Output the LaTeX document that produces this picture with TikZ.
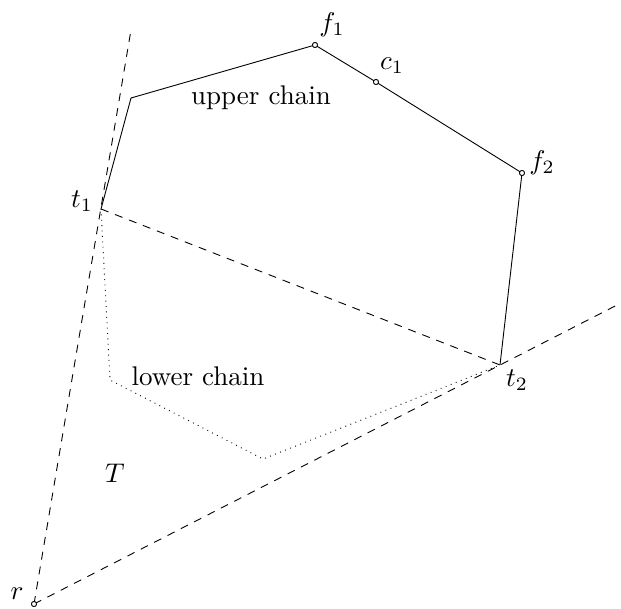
\documentclass[tikz,border=0pt]{standalone}
\begin{document}
\begin{tikzpicture}[x=1pt,y=-1pt,
  lbl/.style={inner sep=0pt, scale=2.7},
  edge/.style={line width=0.9pt},
  dsh/.style={line width=0.9pt, dash pattern=on 8pt off 7pt},
  dts/.style={line width=0.9pt, dash pattern=on 0.9pt off 4.5pt},
  pt/.style={circle, draw, line width=0.8pt, minimum size=5pt, inner sep=0pt}]
\useasboundingbox (0,0) rectangle (621,608);
% points
\coordinate (t1) at (101,209);
\coordinate (u1) at (131,98);
\node[pt] (f1) at (315,45) {};
\node[pt] (c1) at (376,82) {};
\node[pt] (f2) at (522,173) {};
\coordinate (t2) at (500,365);
\node[pt] (r) at (34,604) {};
\coordinate (l1) at (110,380);
\coordinate (l2) at (263,459);
\coordinate (e1) at (131,30);
\coordinate (e2) at (620,303.5);
% upper chain
\draw[edge] (t1) -- (u1) -- (f1.center) -- (c1.center) -- (f2.center) -- (t2);
% lower chain
\draw[dts] (t1) -- (l1) -- (l2) -- (t2);
% dashed lines
\draw[dsh] (r.center) -- (e1);
\draw[dsh] (r.center) -- (e2);
\draw[dsh] (t1) -- (t2);
\node[pt, fill=white] at (r) {};
\node[pt, fill=white] at (f1) {};
\node[pt, fill=white] at (c1) {};
\node[pt, fill=white] at (f2) {};
% labels
\node[lbl] (lf1) at (332,25) {$f_1$};
\node[lbl] (lc1) at (392,66) {$c_1$};
\node[lbl] (lf2) at (542,163) {$f_2$};
\node[lbl] (lt1) at (82,201) {$t_1$};
\node[lbl] (lt2) at (517,380) {$t_2$};
\node[lbl] (lr) at (17,594) {$r$};
\node[lbl] (lT) at (115,473) {$T$};
\node[lbl] (luc) at (261,98) {upper chain};
\node[lbl] (llc) at (198,376) {lower chain};
\end{tikzpicture}
\end{document}
